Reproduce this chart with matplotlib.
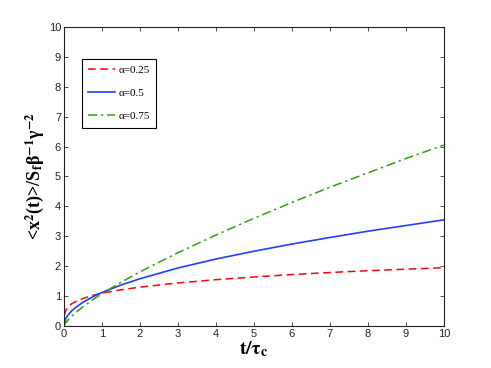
import numpy as np
import matplotlib
matplotlib.use("Agg")
import matplotlib.pyplot as plt

plt.rcParams['mathtext.fontset'] = 'stix'
plt.rcParams['font.family'] = ['Liberation Sans', 'DejaVu Sans']

# values
t_red = [0.01, 0.05, 0.1, 0.2, 0.3, 0.5, 0.75, 1, 1.5, 2, 3, 4, 5, 6, 7, 8, 9, 10]
msd_025 = [0.35, 0.52, 0.62, 0.74, 0.81, 0.92, 1.02, 1.1, 1.21, 1.3, 1.44, 1.55,
           1.64, 1.72, 1.79, 1.85, 1.9, 1.95]

t_blue = [0, 0.01, 0.05, 0.1, 0.2, 0.3, 0.5, 0.75, 1, 1.5, 2, 3, 4, 5, 6, 7, 8, 9, 10]
msd_05 = [0, 0.11, 0.25, 0.35, 0.5, 0.61, 0.79, 0.97, 1.12, 1.37, 1.58, 1.94, 2.24,
          2.5, 2.74, 2.96, 3.17, 3.36, 3.55]

t_green = [0, 0.05, 0.1, 0.2, 0.3, 0.5, 0.75, 1, 1.5, 2, 3, 4, 5, 6, 7, 8, 9, 10]
msd_075 = [0, 0.11, 0.19, 0.32, 0.44, 0.64, 0.87, 1.08, 1.46, 1.81, 2.45, 3.04,
           3.6, 4.13, 4.64, 5.12, 5.6, 6.05]

labels = ['α=0.25', 'α=0.5', 'α=0.75']

fig = plt.figure(figsize=(4.91, 3.68), dpi=100)
ax = fig.add_axes([0.130, 0.114, 0.774, 0.813])

ax.plot(t_red, msd_025, color='red', ls=(0, (5, 3)), lw=1.1, label=labels[0])
ax.plot(t_blue, msd_05, color='#2040ff', ls='-', lw=1.2, label=labels[1])
ax.plot(t_green, msd_075, color='#30a010', ls=(0, (6, 2.5, 1.5, 2.5)), lw=1.1, label=labels[2])

ax.set_xlim(0, 10)
ax.set_ylim(0, 10)
ax.set_xticks(range(0, 11))
ax.set_yticks(range(0, 11))
ax.tick_params(direction='in', top=True, right=True, length=3, width=0.6,
               labelsize=8, colors='#333333', labelcolor='#222222', pad=2)
for s in ax.spines.values():
    s.set_linewidth(0.8)
    s.set_color('#222222')

ax.set_xlabel(r'$\mathbf{t/\tau_c}$', fontsize=14, labelpad=0)
ax.set_ylabel(r'<x$^{\mathbf{2}}$(t)>/S$_{\mathbf{f}}$β$^{\mathbf{-1}}$γ$^{\mathbf{-2}}$',
              fontsize=13, fontweight='bold', family='Liberation Serif', labelpad=2)

leg = ax.legend(loc='upper left', bbox_to_anchor=(0.047, 0.893), frameon=True,
                fancybox=False, edgecolor='black', framealpha=1,
                prop={'family': 'Liberation Serif', 'size': 8},
                handlelength=2.4, borderpad=0.6, labelspacing=1.18, handletextpad=0.3,
                borderaxespad=0)
leg.get_frame().set_linewidth(0.8)

fig.savefig('out.png', dpi=100)
